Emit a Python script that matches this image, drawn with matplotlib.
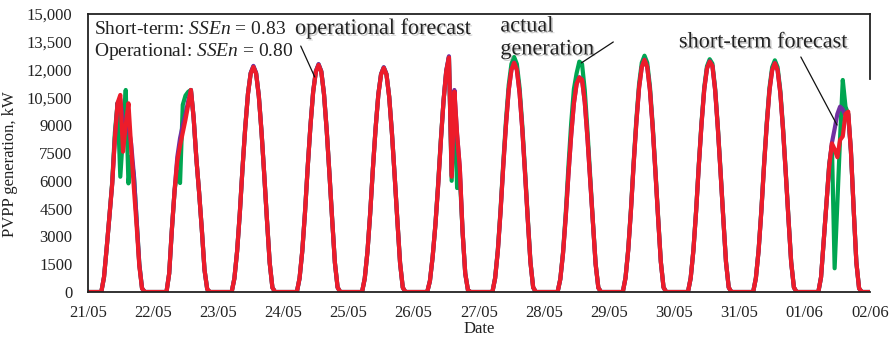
import numpy as np
import matplotlib
matplotlib.use("Agg")
import matplotlib.pyplot as plt
from matplotlib import patheffects as pe

# ---- data -----------------------------------------------------------------
dates = ["21/05", "22/05", "23/05", "24/05", "25/05", "26/05", "27/05",
         "28/05", "29/05", "30/05", "31/05", "01/06", "02/06"]

# hourly PV output in kW; each daily list starts at 05:00 and ends at 20:00
first_hour = 5

actual_gen = [
    [0, 800, 2400, 4100, 5900, 8600, 10200, 6220, 8500, 10900, 5860, 7300, 6300, 3900, 1500, 200],
    [0, 1000, 3400, 5500, 6500, 5880, 10100, 10600, 10800, 10900, 9400, 7200, 5400, 3400, 1200, 150],
    [0, 730, 2190, 4260, 6690, 8880, 10700, 11800, 12160, 11800, 10580, 8630, 6320, 3890, 1580, 240],
    [0, 740, 2210, 4290, 6750, 8960, 10800, 11900, 12270, 11900, 10670, 8710, 6380, 3930, 1600, 250],
    [0, 730, 2180, 4240, 6660, 8840, 10660, 11750, 12110, 11750, 10540, 8600, 6300, 3880, 1570, 240],
    [0, 600, 1900, 3600, 5800, 8200, 10300, 11900, 12650, 6000, 10810, 5610, 6300, 3300, 1000, 100],
    [0, 760, 2280, 4440, 6970, 9260, 11160, 12300, 12680, 12300, 11030, 9000, 6590, 4060, 1650, 250],
    [0, 700, 2150, 4250, 6800, 9100, 10950, 11800, 12430, 12300, 10900, 8700, 6200, 3800, 1550, 240],
    [0, 770, 2300, 4460, 7010, 9310, 11220, 12370, 12750, 12370, 11090, 9050, 6630, 4080, 1660, 260],
    [0, 750, 2260, 4400, 6910, 9170, 11050, 12180, 12560, 12320, 11000, 8920, 6530, 4020, 1630, 250],
    [0, 750, 2250, 4380, 6880, 9130, 11000, 12130, 12500, 12130, 10880, 8880, 6500, 4000, 1630, 250],
    [0, 800, 2800, 4800, 6900, 7900, 1280, 4800, 8300, 11440, 10000, 9600, 7600, 4500, 1600, 200],
]

short_term = [
    [0, 800, 2400, 4100, 5800, 8300, 10200, 10400, 9200, 9300, 8900, 8000, 6300, 3900, 1500, 200],
    [0, 1000, 3400, 5500, 7300, 8300, 9000, 9600, 10300, 10900, 9400, 7200, 5400, 3400, 1200, 150],
    [0, 730, 2190, 4250, 6690, 8880, 10700, 11820, 12200, 11820, 10590, 8640, 6320, 3880, 1580, 240],
    [0, 740, 2210, 4300, 6760, 8970, 10810, 11910, 12300, 11910, 10690, 8720, 6380, 3930, 1590, 250],
    [0, 730, 2180, 4240, 6670, 8850, 10670, 11760, 12130, 11760, 10540, 8600, 6300, 3880, 1570, 240],
    [0, 600, 1900, 3600, 5700, 8100, 10300, 11950, 12720, 6300, 10900, 8500, 6700, 3300, 1000, 100],
    [0, 740, 2220, 4330, 6800, 9020, 10880, 11990, 12380, 11990, 10750, 8780, 6430, 3960, 1610, 250],
    [0, 690, 2080, 4050, 6360, 8450, 10180, 11220, 11590, 11450, 10250, 8300, 6020, 3700, 1500, 230],
    [0, 750, 2250, 4380, 6890, 9140, 11020, 12140, 12540, 12140, 10890, 8890, 6510, 4010, 1630, 250],
    [0, 750, 2240, 4350, 6840, 9070, 10940, 12060, 12450, 12200, 10900, 8830, 6460, 3980, 1620, 250],
    [0, 740, 2220, 4320, 6790, 9010, 10860, 11970, 12360, 11970, 10740, 8760, 6420, 3950, 1600, 250],
    [0, 800, 2800, 4800, 6800, 8050, 8800, 9600, 10000, 9850, 9500, 9600, 7600, 4500, 1600, 200],
]

operational = [
    [0, 800, 2400, 4100, 5800, 8300, 10200, 10630, 7570, 9000, 10180, 7800, 5600, 3600, 1400, 200],
    [0, 1000, 3400, 5500, 7100, 7900, 8600, 9300, 10100, 10900, 9400, 7200, 5400, 3400, 1200, 150],
    [0, 730, 2190, 4250, 6680, 8860, 10680, 11780, 12140, 11780, 10560, 8620, 6310, 3880, 1580, 240],
    [0, 740, 2210, 4290, 6740, 8940, 10780, 11880, 12250, 11880, 10660, 8700, 6370, 3920, 1590, 250],
    [0, 730, 2180, 4230, 6650, 8830, 10640, 11730, 12090, 11730, 10520, 8580, 6290, 3870, 1570, 240],
    [0, 600, 1900, 3600, 5700, 8100, 10300, 11900, 12650, 6220, 10810, 8500, 6700, 3300, 1000, 100],
    [0, 740, 2220, 4330, 6800, 9020, 10880, 11990, 12360, 11990, 10750, 8780, 6430, 3960, 1610, 250],
    [0, 690, 2080, 4050, 6360, 8450, 10180, 11220, 11570, 11450, 10250, 8300, 6020, 3700, 1500, 230],
    [0, 750, 2250, 4380, 6890, 9140, 11020, 12140, 12520, 12140, 10890, 8890, 6510, 4010, 1630, 250],
    [0, 750, 2240, 4350, 6840, 9070, 10940, 12060, 12430, 12200, 10900, 8830, 6460, 3980, 1620, 250],
    [0, 740, 2220, 4320, 6790, 9010, 10860, 11970, 12340, 11970, 10740, 8760, 6420, 3950, 1600, 250],
    [0, 800, 2800, 4800, 6800, 8020, 7700, 7270, 8200, 8400, 9600, 9730, 7600, 4500, 1600, 200],
]

y_ticks = [0, 1500, 3000, 4500, 6000, 7500, 9000, 10500, 12000, 13500, 15000]
y_tick_labels = ["0", "1500", "3000", "4500", "6000", "7500", "9000",
                 "10,500", "12,000", "13,500", "15,000"]

sse_short = 0.83
sse_oper = 0.80

# ---- build continuous hourly series ----------------------------------------
n_days = len(dates) - 1
t = np.arange(n_days * 24 + 1) / 24.0


def to_hourly(days):
    s = np.zeros(n_days * 24 + 1)
    for d, vals in enumerate(days):
        i0 = d * 24 + first_hour
        s[i0:i0 + len(vals)] = vals
    return s


green = "#00A651"
purple = "#7030A0"
red = "#ED1C2A"

plt.rcParams["font.family"] = ["Liberation Serif", "DejaVu Serif"]
plt.rcParams["mathtext.fontset"] = "custom"
plt.rcParams["mathtext.rm"] = "Liberation Serif"
plt.rcParams["mathtext.it"] = "Liberation Serif:italic"

fig = plt.figure(figsize=(8.95, 3.37), dpi=100)
ax = fig.add_axes([0.098, 0.1335, 0.874, 0.825])

lw = 3.0
ax.plot(t, to_hourly(actual_gen), color=green, lw=lw, solid_joinstyle="round")
ax.plot(t, to_hourly(short_term), color=purple, lw=lw, solid_joinstyle="round")
ax.plot(t, to_hourly(operational), color=red, lw=lw, solid_joinstyle="round")

ax.set_xlim(0, n_days)
ax.set_ylim(0, 15000)
ax.set_xticks(np.arange(len(dates)))
ax.set_xticklabels(dates)
ax.set_yticks(y_ticks)
ax.set_yticklabels(y_tick_labels)
ax.tick_params(axis="both", length=0, labelsize=12, colors="#222222")
ax.tick_params(axis="y", pad=11)
ax.tick_params(axis="x", pad=9)

for side in ["left", "bottom", "top", "right"]:
    ax.spines[side].set_linewidth(1.3)
    ax.spines[side].set_color("#222222")
ax.spines["right"].set_bounds(11500, 15000)

ax.set_xlabel("Date", fontsize=12, labelpad=0, color="#222222")
ax.set_ylabel("PVPP generation, kW", fontsize=12, color="#222222")
ax.yaxis.set_label_coords(-0.089, 0.46)

# SSEn scores
ax.text(0.1, 14140, f"Short-term: $SSEn$ = {sse_short:.2f}", fontsize=14,
        va="center", ha="left", color="#222222")
ax.text(0.1, 12950, f"Operational: $SSEn$ = {sse_oper:.2f}", fontsize=14,
        va="center", ha="left", color="#222222")

# series call-outs
shadow = [pe.withSimplePatchShadow(offset=(1.2, -1.2), shadow_rgbFace=(0.55, 0.55, 0.55), alpha=0.45)]
label_kw = dict(fontsize=16, va="center", ha="left", color="#222222", path_effects=shadow)
ax.text(3.18, 14190, "operational forecast", **label_kw)
ax.text(6.33, 14300, "actual", **label_kw)
ax.text(6.33, 13060, "generation", **label_kw)
ax.text(9.07, 13440, "short-term forecast", **label_kw)

line_kw = dict(arrowstyle="-", color="#111111", lw=0.9, shrinkA=0, shrinkB=0)
ax.annotate("", xy=(3.483, 11600), xytext=(3.268, 13270), arrowprops=line_kw)
ax.annotate("", xy=(7.573, 12360), xytext=(8.063, 13490), arrowprops=line_kw)
ax.annotate("", xy=(11.495, 9010), xytext=(10.94, 12680), arrowprops=line_kw)

fig.savefig("out.png", dpi=100)
